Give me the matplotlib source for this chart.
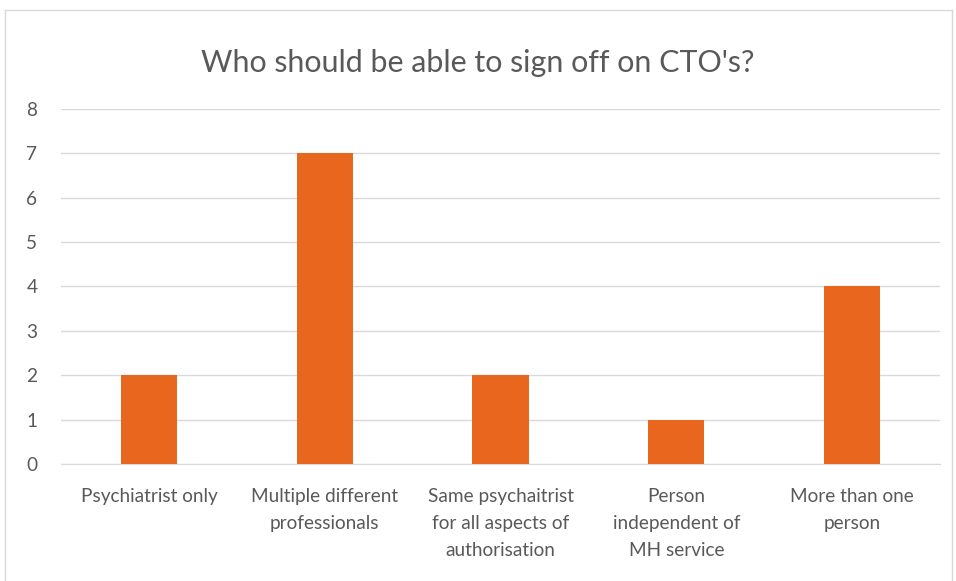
import matplotlib
matplotlib.use('Agg')
import matplotlib.pyplot as plt
from matplotlib.lines import Line2D

categories = ['Psychiatrist only', 'Multiple different\nprofessionals',
              'Same psychaitrist\nfor all aspects of\nauthorisation',
              'Person\nindependent of\nMH service', 'More than one\nperson']
counts = [2, 7, 2, 1, 4]
yticks = list(range(0, 9))

text_color = '#595959'
bar_color = '#E9661F'
grid_color = '#D9D9D9'

plt.rcParams['font.family'] = ['Lato', 'DejaVu Sans']

fig = plt.figure(figsize=(9.56, 5.81), dpi=100)
ax = fig.add_axes([0.0638, 0.2014, 0.9195, 0.611])

x = range(len(categories))
ax.bar(x, counts, width=0.32, color=bar_color, zorder=3)
ax.set_xlim(-0.5, len(categories) - 0.5)
ax.set_ylim(0, 8)
ax.set_yticks(yticks)
ax.set_xticks(list(x))
ax.set_xticklabels(categories, fontsize=13.7, color=text_color, linespacing=1.72)
ax.tick_params(axis='y', labelsize=13.7, labelcolor=text_color, length=0, pad=17)
ax.tick_params(axis='x', length=0, pad=17)
ax.grid(axis='y', color=grid_color, linewidth=1, zorder=0)
for s in ['top', 'right', 'left']:
    ax.spines[s].set_visible(False)
ax.spines['bottom'].set_color(grid_color)

fig.text(0.5, 0.892, "Who should be able to sign off on CTO's?", ha='center', va='center',
         fontsize=21.9, color=text_color)

# chart border
bx0, bx1 = 4.5 / 956, 951.5 / 956
by1 = 1 - 9.5 / 581
fig.add_artist(Line2D([bx0, bx1], [by1, by1], transform=fig.transFigure, color='#D9D9D9', lw=1))
fig.add_artist(Line2D([bx0, bx0], [0, by1], transform=fig.transFigure, color='#D9D9D9', lw=1))
fig.add_artist(Line2D([bx1, bx1], [0, by1], transform=fig.transFigure, color='#D9D9D9', lw=1))

fig.savefig('out.png', dpi=100)
